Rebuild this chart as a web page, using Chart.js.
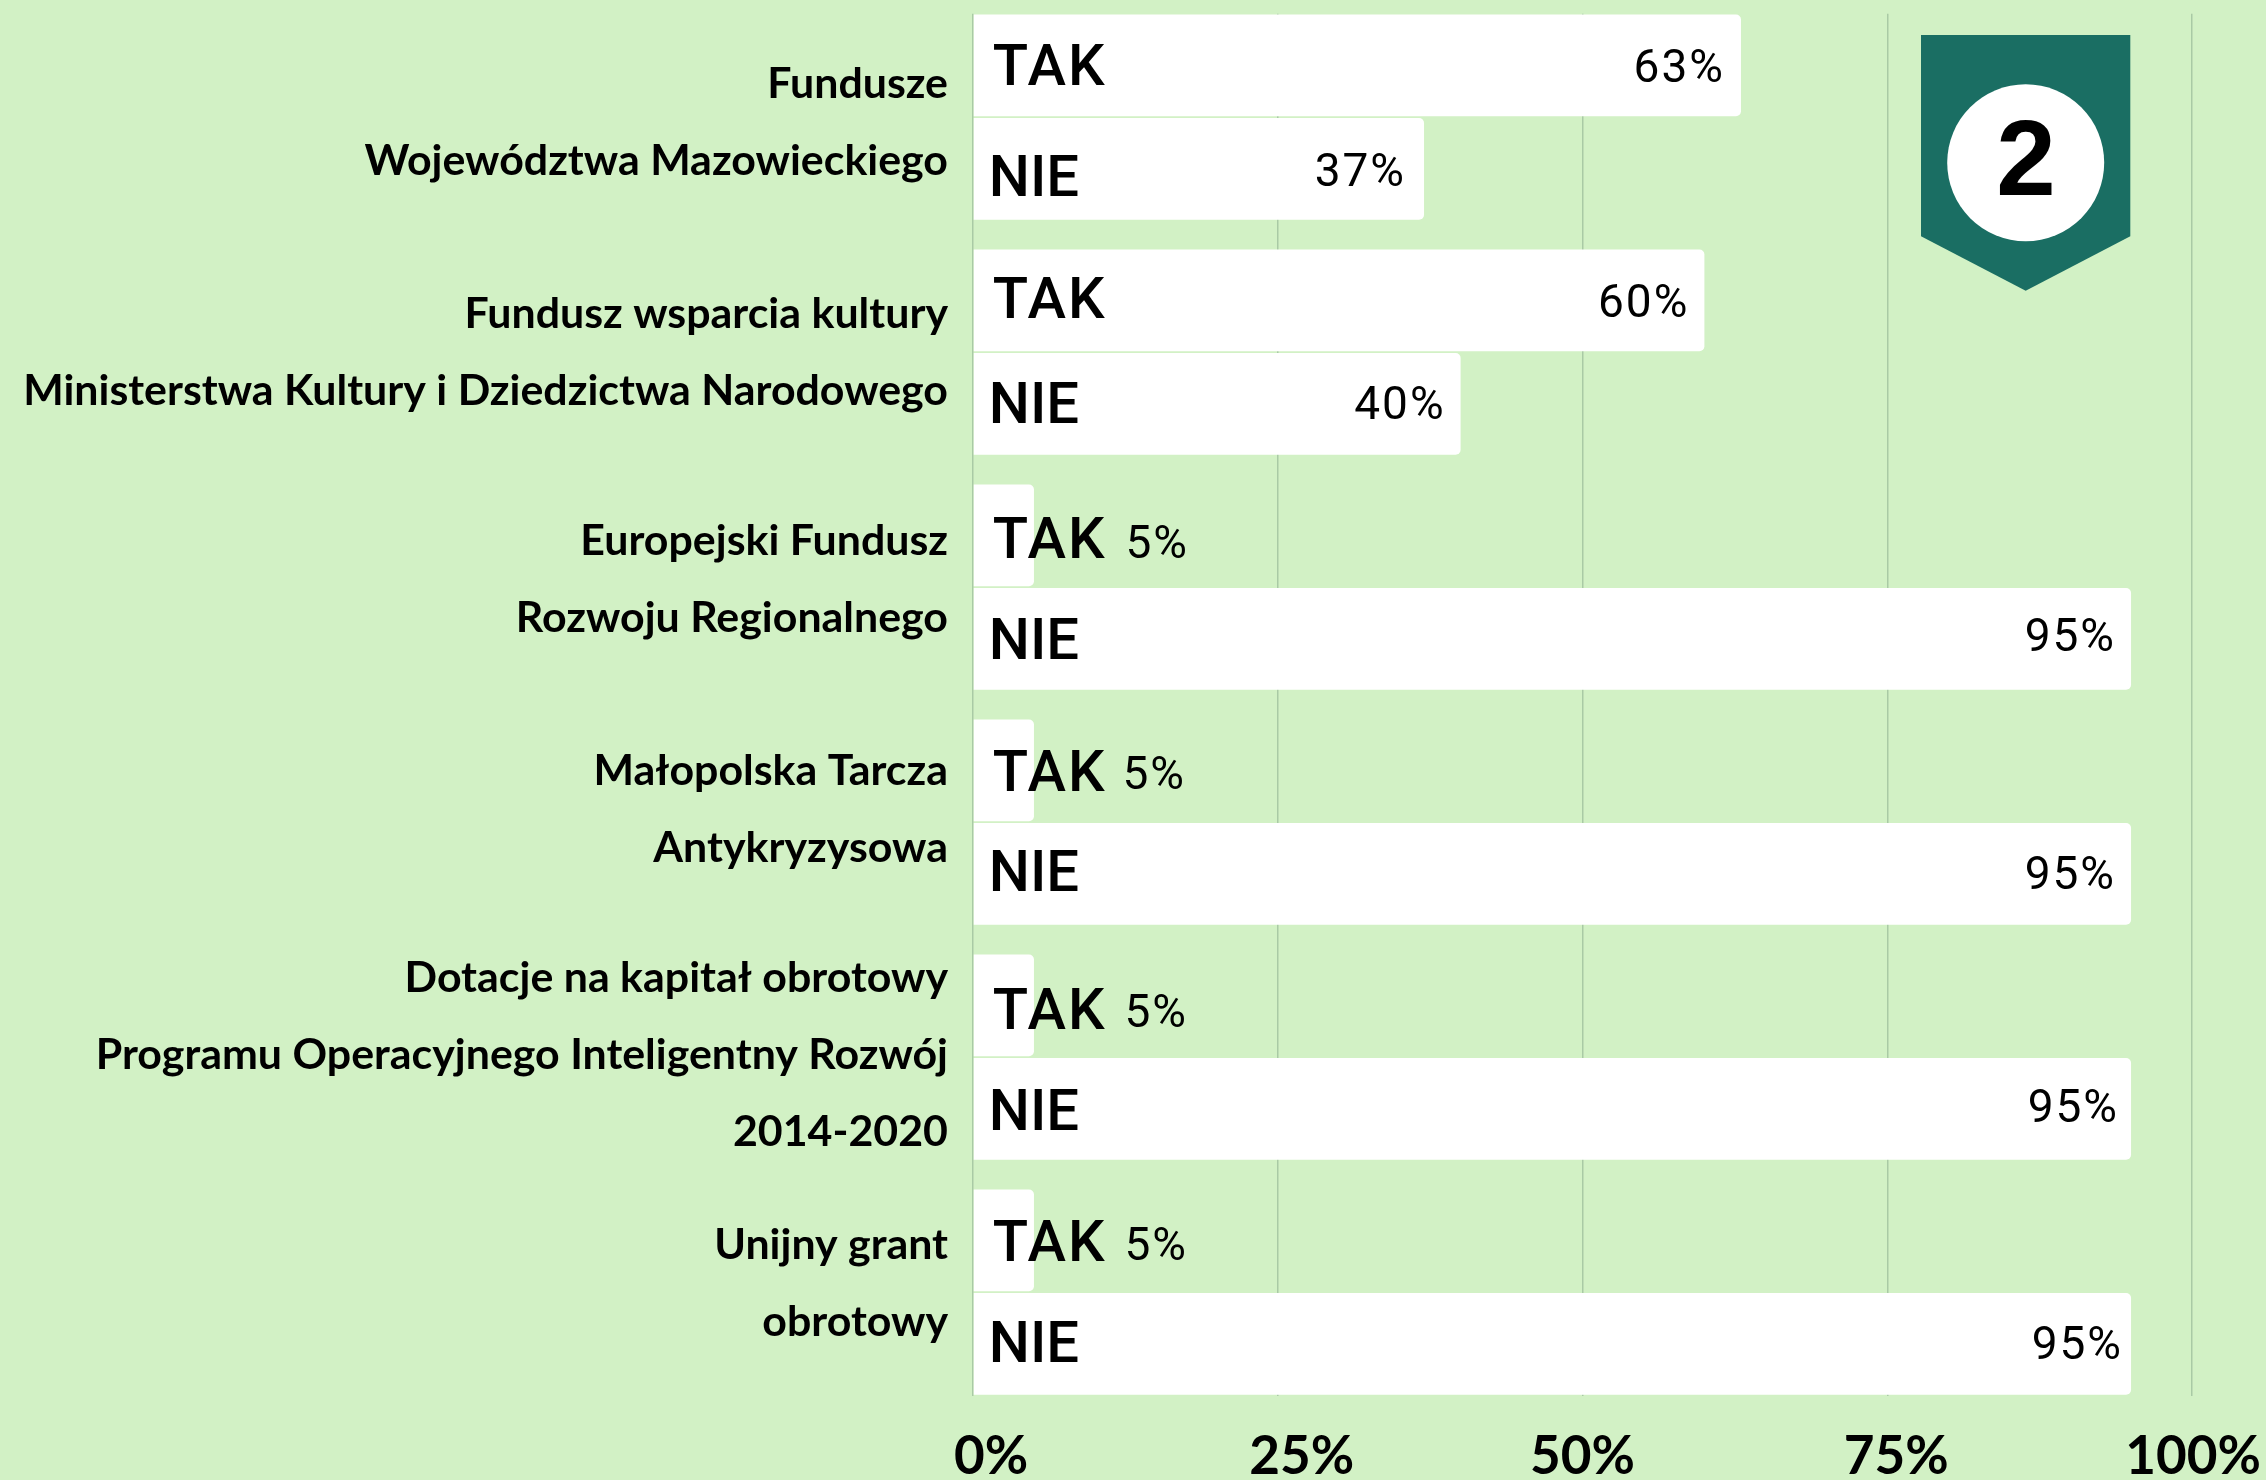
<!DOCTYPE html>
<html lang="pl">
<head>
<meta charset="utf-8">
<title>Fundusze</title>
<script src="https://cdn.jsdelivr.net/npm/chart.js@4"></script>
<style>html,body{margin:0;padding:0;background:#d2f1c5}canvas{display:block}</style>
</head>
<body>
<canvas id="c" width="2266" height="1480"></canvas>
<script>
const categories = [
  ['Fundusze', 'Województwa Mazowieckiego'],
  ['Fundusz wsparcia kultury', 'Ministerstwa Kultury i Dziedzictwa Narodowego'],
  ['Europejski Fundusz', 'Rozwoju Regionalnego'],
  ['Małopolska Tarcza', 'Antykryzysowa'],
  ['Dotacje na kapitał obrotowy', 'Programu Operacyjnego Inteligentny Rozwój', '2014-2020'],
  ['Unijny grant', 'obrotowy']
];
const seriesNames = ['TAK', 'NIE'];
const takValues = [63, 60, 5, 5, 5, 5];
const nieValues = [37, 40, 95, 95, 95, 95];
const xTickValues = [0, 25, 50, 75, 100];
const xTickLabels = ['0%', '25%', '50%', '75%', '100%'];
const badgeText = '2';

// Hand placement of the labels, as in the reference (pixels)
const catLabelShift = [6, 1, -7, -12, -2, -8];
const xLabelShift = [18, 24, 0, 9, 1];
const nameDy = [[0, -2, 3, 1, 4, 1], [8, 0, 1, -2, 2, -1]];
const nameDx = [19, 15];
const pctDy = [[2, 2, 8, 4, 7, 5], [2, 0, -3, 0, -2, 0]];
const pctDx = [[-16, -15, 155, 152, 154, 154], [-18, -15, -15, -15, -12, -8]];

const BG = '#d2f1c5', INK = '#000000', TEAL = '#1a6e63', GRID = '#a9caa5';
const PITCH = 235, YMIN = -0.44, YMAX = 5.44;
const groupPositions = categories.map((_, i) => i);

const barLabels = {
  id: 'barLabels',
  afterDatasetsDraw(chart) {
    const ctx = chart.ctx;
    ctx.save();
    ctx.fillStyle = INK;
    ctx.textBaseline = 'middle';
    chart.data.datasets.forEach((ds, d) => {
      chart.getDatasetMeta(d).data.forEach((bar, i) => {
        const props = bar.getProps(['x', 'y', 'base'], true);
        ctx.textAlign = 'left';
        ctx.font = '500 58px Roboto';
        ctx.letterSpacing = d === 0 ? '2px' : '0px';
        ctx.fillText(seriesNames[d], props.base + nameDx[d], props.y + nameDy[d][i] + 5);
        ctx.textAlign = 'right';
        ctx.font = '400 46px Roboto';
        ctx.letterSpacing = '2px';
        ctx.fillText(ds.data[i].x + '%', props.x + pctDx[d][i], props.y + pctDy[d][i] + 3.5);
      });
    });
    ctx.restore();
  }
};

const badge = {
  id: 'badge',
  afterDraw(chart) {
    const ctx = chart.ctx;
    ctx.save();
    ctx.fillStyle = TEAL;
    ctx.beginPath();
    ctx.moveTo(1921, 35);
    ctx.lineTo(2130.3, 35);
    ctx.lineTo(2130.3, 236.3);
    ctx.lineTo(2025.7, 290.7);
    ctx.lineTo(1921, 236.3);
    ctx.closePath();
    ctx.fill();
    ctx.fillStyle = '#ffffff';
    ctx.beginPath();
    ctx.arc(2025.7, 162.7, 78.5, 0, Math.PI * 2);
    ctx.fill();
    ctx.fillStyle = INK;
    ctx.font = 'bold 107px "Liberation Sans"';
    ctx.textAlign = 'center';
    ctx.textBaseline = 'alphabetic';
    ctx.fillText(badgeText, 2026, 194.7);
    ctx.restore();
  }
};

const background = {
  id: 'background',
  beforeDraw(chart) {
    const ctx = chart.ctx;
    ctx.save();
    ctx.fillStyle = BG;
    ctx.fillRect(0, 0, chart.width, chart.height);
    ctx.restore();
  }
};

const barStyle = {
  backgroundColor: '#ffffff',
  borderWidth: 0,
  borderRadius: 5,
  categoryPercentage: 0.8796,
  barPercentage: 0.984,
  parsing: { xAxisKey: 'x', yAxisKey: 'y' },
  yAxisID: 'y',
  xAxisID: 'x'
};

new Chart(document.getElementById('c'), {
  type: 'bar',
  data: {
    datasets: [
      Object.assign({ label: seriesNames[0], data: takValues.map((v, i) => ({ x: v, y: groupPositions[i] })) }, barStyle),
      Object.assign({ label: seriesNames[1], data: nieValues.map((v, i) => ({ x: v, y: groupPositions[i] })) }, barStyle)
    ]
  },
  options: {
    indexAxis: 'y',
    responsive: false,
    animation: false,
    layout: { padding: { top: 13.7, right: 74, bottom: 0, left: 0 } },
    plugins: { legend: { display: false }, tooltip: { enabled: false } },
    scales: {
      y: {
        type: 'linear', display: false, reverse: true, offset: false, min: YMIN, max: YMAX,
        afterBuildTicks: s => { s.ticks = groupPositions.map(v => ({ value: v })); },
        grid: { display: false }
      },
      yLabels: {
        type: 'linear', axis: 'y', position: 'left', reverse: true, offset: false, min: YMIN, max: YMAX,
        grid: { display: false, drawTicks: false }, border: { display: false },
        afterBuildTicks: s => { s.ticks = groupPositions.map((v, i) => ({ value: v + catLabelShift[i] / PITCH })); },
        afterFit: s => { s.width = 973; s.paddingTop = 0; s.paddingBottom = 0; },
        ticks: {
          autoSkip: false, padding: 25, color: INK,
          font: { family: 'Lato', size: 42.9, weight: 'bold', lineHeight: 77 / 42.9 },
          callback: (v, i) => categories[i]
        }
      },
      x: {
        type: 'linear', position: 'bottom', min: 0, max: 100, weight: 0,
        grid: { color: GRID, lineWidth: 1.5, drawTicks: false }, border: { display: false },
        ticks: { display: false, stepSize: 25 },
        afterFit: s => { s.height = 0; }
      },
      xLabels: {
        type: 'linear', axis: 'x', position: 'bottom', min: 0, max: 100, weight: 1,
        grid: { display: false, drawTicks: false }, border: { display: false },
        afterBuildTicks: s => { s.ticks = xTickValues.map((v, i) => ({ value: v + xLabelShift[i] * 100 / 1219 })); },
        afterFit: s => { s.height = 84.5; s.paddingLeft = 0; s.paddingRight = 0; },
        ticks: {
          autoSkip: false, maxRotation: 0, padding: 35, color: INK,
          font: { family: 'Lato', size: 53, weight: 'bold', lineHeight: 1 },
          callback: (v, i) => xTickLabels[i]
        }
      }
    }
  },
  plugins: [background, barLabels, badge]
});
</script>
</body>
</html>
